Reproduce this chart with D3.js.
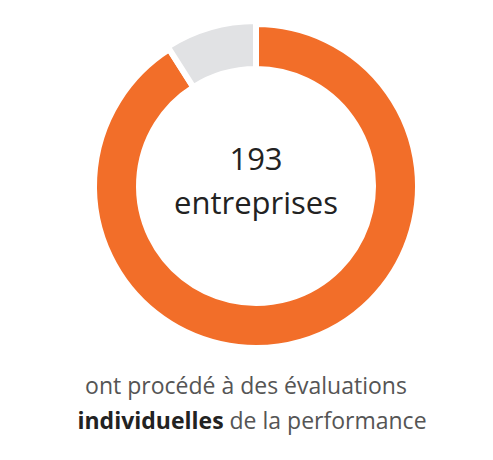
<!DOCTYPE html><html><head><meta charset="utf-8"><script src="https://cdn.jsdelivr.net/npm/d3@7"></script>
<style>body{margin:0;background:#fff}</style></head><body><svg id="c" width="493" height="460"></svg>
<script>
const categories=["Avec évaluations","Sans évaluations"];
const values=[91,9];
const colors=["#F26E29","#E1E2E4"];
const centerLines=["193","entreprises"];
const svg=d3.select("#c");
const g=svg.append("g").attr("transform","translate(256,186)");
const pie=d3.pie().sort(null).startAngle(0).endAngle(2*Math.PI).value(d=>d)(values);
const arcs=[d3.arc().innerRadius(117).outerRadius(162),d3.arc().innerRadius(117).outerRadius(165)];
g.selectAll("path").data(pie).join("path").attr("d",(d,i)=>arcs[i](d)).attr("fill",(d,i)=>colors[i])
 .attr("stroke","#fff").attr("stroke-width",6);
g.selectAll("text.c").data(centerLines).join("text").attr("class","c").attr("text-anchor","middle")
 .attr("y",(d,i)=>-16+i*44).attr("font-family","Open Sans, sans-serif").attr("font-size",31).attr("fill","#222").text(d=>d);
const t1=svg.append("text").attr("x",246).attr("y",394).attr("text-anchor","middle").attr("font-family","Open Sans, sans-serif").attr("font-size",23).attr("fill","#555").text("ont procédé à des évaluations");
const t2=svg.append("text").attr("x",252).attr("y",429).attr("text-anchor","middle").attr("font-family","Open Sans, sans-serif").attr("font-size",23).attr("fill","#555");
t2.append("tspan").attr("font-weight","bold").attr("fill","#222").text("individuelles");
t2.append("tspan").text(" de la performance");
</script></body></html>
